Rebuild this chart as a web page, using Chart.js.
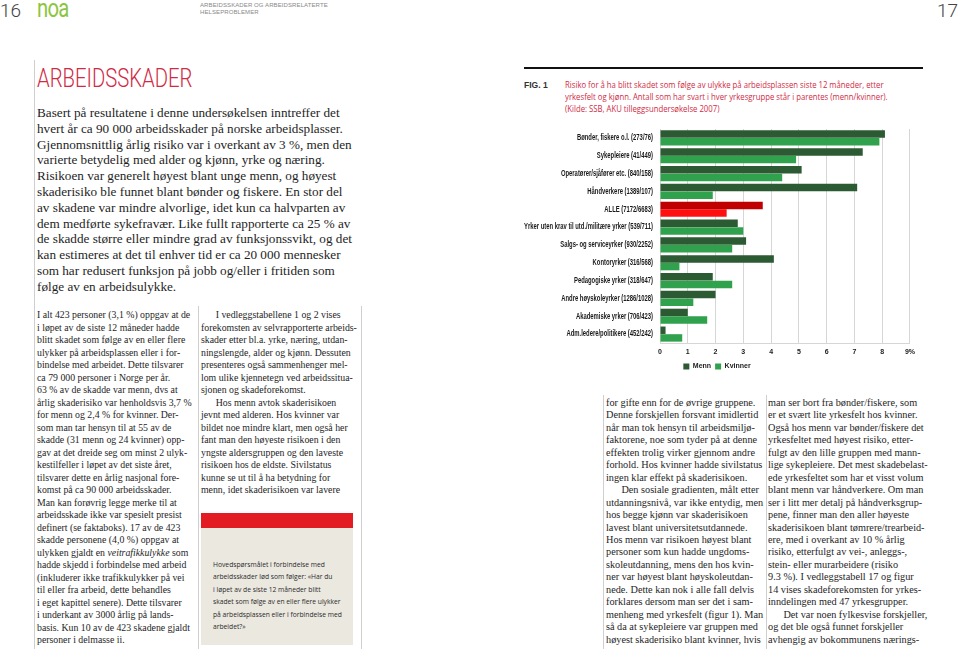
<!DOCTYPE html>
<html>
<head>
<meta charset="utf-8">
<script src="https://cdn.jsdelivr.net/npm/chart.js@4.4.0/dist/chart.umd.min.js"></script>
<style>
  html,body{margin:0;padding:0;background:#fff;}
  body{width:960px;height:649px;position:relative;overflow:hidden;font-family:"Liberation Serif","DejaVu Serif",serif;color:#222;}
  .abs{position:absolute;}
  .pg{font-family:Roboto,"Liberation Sans",sans-serif;font-weight:300;font-size:19px;line-height:22px;color:#444;top:0;}
  .hdr{left:200px;top:2px;font-family:"Liberation Sans",sans-serif;font-size:6px;line-height:6.5px;color:#888;letter-spacing:0.1px;}
  .logo{left:37px;top:1px;font-family:Roboto,sans-serif;font-weight:400;font-size:26px;line-height:14px;color:#8cc63f;letter-spacing:-1px;transform:scaleX(0.78);transform-origin:left top;}
  .vline{width:1px;background:#cfcfcf;}
  .title{left:37px;top:63px;font-family:Roboto,"Liberation Sans",sans-serif;font-weight:300;font-size:26px;color:#cf2b45;transform:scaleX(0.78);transform-origin:left top;white-space:nowrap;}
  .lead{left:37px;top:105px;font-size:13.2px;line-height:15.8px;white-space:pre;color:#1e1e1e;}
  .col{font-size:9.8px;line-height:12.52px;white-space:pre;color:#1e1e1e;}
  .colr{font-size:10.25px;line-height:12.45px;white-space:pre;color:#1e1e1e;}
  .box{left:201px;top:513px;width:152px;height:132px;background:#ebe8e0;}
  .boxbar{left:201px;top:513px;width:152px;height:15px;background:#e31b23;}
  .boxtxt{left:213px;top:558px;font-family:"Open Sans","Liberation Sans",sans-serif;font-size:8px;line-height:12.4px;white-space:pre;color:#2a2a2a;transform:scaleX(0.84);transform-origin:left top;}
  .rule{left:524px;top:67px;width:399px;height:2px;background:#111;}
  .fig{left:524px;top:79px;font-family:"Liberation Sans",sans-serif;font-weight:bold;font-size:9.5px;color:#333;transform:scaleX(0.9);transform-origin:left top;}
  .cap{left:565px;top:79px;font-family:"Open Sans","Liberation Sans",sans-serif;font-size:9.5px;line-height:12px;white-space:pre;color:#cf2b45;transform:scaleX(0.815);transform-origin:left top;}
  #wrap{position:absolute;left:520px;top:118px;width:400px;height:262px;}
</style>
</head>
<body>
<div class="abs pg" style="left:0;">16</div>
<div class="abs pg" style="right:2px;">17</div>
<div class="abs logo">noa</div>
<div class="abs hdr">ARBEIDSSKADER OG ARBEIDSRELATERTE<br>HELSEPROBLEMER</div>

<div class="abs vline" style="left:34px;top:60px;height:589px;"></div>
<div class="abs vline" style="left:198px;top:306px;height:343px;"></div>
<div class="abs vline" style="left:361px;top:306px;height:343px;"></div>
<div class="abs vline" style="left:603px;top:395px;height:254px;"></div>
<div class="abs vline" style="left:766px;top:395px;height:254px;"></div>

<div class="abs title">ARBEIDSSKADER</div>
<div class="abs lead">Basert på resultatene i denne undersøkelsen inntreffer det
hvert år ca 90 000 arbeidsskader på norske arbeidsplasser.
Gjennomsnittlig årlig risiko var i overkant av 3 %, men den
varierte betydelig med alder og kjønn, yrke og næring.
Risikoen var generelt høyest blant unge menn, og høyest
skaderisiko ble funnet blant bønder og fiskere. En stor del
av skadene var mindre alvorlige, idet kun ca halvparten av
dem medførte sykefravær. Like fullt rapporterte ca 25 % av
de skadde større eller mindre grad av funksjonssvikt, og det
kan estimeres at det til enhver tid er ca 20 000 mennesker
som har redusert funksjon på jobb og/eller i fritiden som
følge av en arbeidsulykke.</div>

<div class="abs col" style="left:37px;top:309px;">I alt 423 personer (3,1 %) oppgav at de
i løpet av de siste 12 måneder hadde
blitt skadet som følge av en eller flere
ulykker på arbeidsplassen eller i for-
bindelse med arbeidet. Dette tilsvarer
ca 79 000 personer i Norge per år.
63 % av de skadde var menn, dvs at
årlig skaderisiko var henholdsvis 3,7 %
for menn og 2,4 % for kvinner. Der-
som man tar hensyn til at 55 av de
skadde (31 menn og 24 kvinner) opp-
gav at det dreide seg om minst 2 ulyk-
kestilfeller i løpet av det siste året,
tilsvarer dette en årlig nasjonal fore-
komst på ca 90 000 arbeidsskader.
Man kan forøvrig legge merke til at
arbeidsskade ikke var spesielt presist
definert (se faktaboks). 17 av de 423
skadde personene (4,0 %) oppgav at
ulykken gjaldt en <i>veitrafikkulykke</i> som
hadde skjedd i forbindelse med arbeid
(inkluderer ikke trafikkulykker på vei
til eller fra arbeid, dette behandles
i eget kapittel senere). Dette tilsvarer
i underkant av 3000 årlig på lands-
basis. Kun 10 av de 423 skadene gjaldt
personer i delmasse ii.</div>

<div class="abs col" style="left:201px;top:309px;">      I vedleggstabellene 1 og 2 vises
forekomsten av selvrapporterte arbeids-
skader etter bl.a. yrke, næring, utdan-
ningslengde, alder og kjønn. Dessuten
presenteres også sammenhenger mel-
lom ulike kjennetegn ved arbeidssitua-
sjonen og skadeforekomst.
      Hos menn avtok skaderisikoen
jevnt med alderen. Hos kvinner var
bildet noe mindre klart, men også her
fant man den høyeste risikoen i den
yngste aldersgruppen og den laveste
risikoen hos de eldste. Sivilstatus
kunne se ut til å ha betydning for
menn, idet skaderisikoen var lavere</div>

<div class="abs box"></div>
<div class="abs boxbar"></div>
<div class="abs boxtxt">Hovedspørsmålet i forbindelse med
arbeidsskader lød som følger: «Har du
i løpet av de siste 12 måneder blitt
skadet som følge av en eller flere ulykker
på arbeidsplassen eller i forbindelse med
arbeidet?»</div>

<div class="abs rule"></div>
<div class="abs fig">FIG. 1</div>
<div class="abs cap">Risiko for å ha blitt skadet som følge av ulykke på arbeidsplassen siste 12 måneder, etter
yrkesfelt og kjønn. Antall som har svart i hver yrkesgruppe står i parentes (menn/kvinner).
(Kilde: SSB, AKU tilleggsundersøkelse 2007)</div>

<div id="wrap"><canvas id="c"></canvas></div>

<div class="abs colr" style="left:606px;top:397px;">for gifte enn for de øvrige gruppene.
Denne forskjellen forsvant imidlertid
når man tok hensyn til arbeidsmiljø-
faktorene, noe som tyder på at denne
effekten trolig virker gjennom andre
forhold. Hos kvinner hadde sivilstatus
ingen klar effekt på skaderisikoen.
      Den sosiale gradienten, målt etter
utdanningsnivå, var ikke entydig, men
hos begge kjønn var skaderisikoen
lavest blant universitetsutdannede.
Hos menn var risikoen høyest blant
personer som kun hadde ungdoms-
skoleutdanning, mens den hos kvin-
ner var høyest blant høyskoleutdan-
nede. Dette kan nok i alle fall delvis
forklares dersom man ser det i sam-
menheng med yrkesfelt (figur 1). Man
så da at sykepleiere var gruppen med
høyest skaderisiko blant kvinner, hvis</div>

<div class="abs colr" style="left:768px;top:397px;">man ser bort fra bønder/fiskere, som
er et svært lite yrkesfelt hos kvinner.
Også hos menn var bønder/fiskere det
yrkesfeltet med høyest risiko, etter-
fulgt av den lille gruppen med mann-
lige sykepleiere. Det mest skadebelast-
ede yrkesfeltet som har et visst volum
blant menn var håndverkere. Om man
ser i litt mer detalj på håndverksgrup-
pene, finner man den aller høyeste
skaderisikoen blant tømrere/trearbeid-
ere, med i overkant av 10 % årlig
risiko, etterfulgt av vei-, anleggs-,
stein- eller murarbeidere (risiko
9.3 %). I vedleggstabell 17 og figur
14 vises skadeforekomsten for yrkes-
inndelingen med 47 yrkesgrupper.
      Det var noen fylkesvise forskjeller,
og det ble også funnet forskjeller
avhengig av bokommunens nærings-</div>

<script>
const categories = [
  "Bønder, fiskere o.l. (273/76)",
  "Sykepleiere (41/449)",
  "Operatører/sjåfører etc. (840/158)",
  "Håndverkere (1389/107)",
  "ALLE (7172/6683)",
  "Yrker uten krav til utd./militære yrker (539/711)",
  "Salgs- og serviceyrker (930/2252)",
  "Kontoryrker (316/568)",
  "Pedagogiske yrker (318/647)",
  "Andre høyskoleyrker (1286/1028)",
  "Akademiske yrker (706/423)",
  "Adm.ledere/politikere (452/242)"
];
const menn    = [8.1, 7.3, 5.1, 7.1, 3.7, 2.8, 3.1, 4.1, 1.9, 2.0, 1.0, 0.2];
const kvinner = [7.9, 4.9, 4.4, 1.9, 2.4, 3.0, 2.6, 0.7, 2.6, 1.2, 1.7, 0.8];
const xTickLabels = ["0","1","2","3","4","5","6","7","8","9%"];

const MENN = "#2c5a33", KVINNER = "#30a14c", ALLE_M = "#c00000", ALLE_K = "#ff1010";
const mennColors = categories.map(c => c.startsWith("ALLE") ? ALLE_M : MENN);
const kvinnerColors = categories.map(c => c.startsWith("ALLE") ? ALLE_K : KVINNER);

const FONT_FAMILY = "'Liberation Sans',Arial,sans-serif";
const lblFont = {family:FONT_FAMILY, size:7, weight:"bold"};

// Draws the y-axis category labels in a condensed (horizontally squeezed) bold face,
// positioned from the chart's own y scale.
const narrowYLabels = {
  id: "narrowYLabels",
  afterDraw(chart) {
    const ys = chart.scales.y, ctx = chart.ctx;
    ctx.save();
    ctx.font = "bold 8.5px " + FONT_FAMILY;
    ctx.fillStyle = "#1a1a1a";
    ctx.textAlign = "right";
    ctx.textBaseline = "middle";
    const longest = Math.max(...categories.map(c => ctx.measureText(c).width));
    const sx = 129 / longest;
    const xRight = chart.chartArea.left - 7;
    ys.ticks.forEach((t, i) => {
      const y = ys.getPixelForTick(i);
      ctx.save();
      ctx.translate(xRight, y);
      ctx.scale(sx, 1);
      ctx.fillText(categories[i], 0, 0);
      ctx.restore();
    });
    ctx.restore();
  }
};

new Chart(document.getElementById("c"), {
  type: "bar",
  data: {
    labels: categories,
    datasets: [
      {label:"Menn", data:menn, backgroundColor:mennColors, categoryPercentage:0.86, barPercentage:0.97},
      {label:"Kvinner", data:kvinner, backgroundColor:kvinnerColors, categoryPercentage:0.86, barPercentage:0.97}
    ]
  },
  options: {
    indexAxis: "y",
    responsive: true,
    maintainAspectRatio: false,
    animation: false,
    layout: {padding:{top:11, right:6, left:0, bottom:0}},
    scales: {
      x: {
        min:0, max:9,
        grid:{color:"#d6d6d6", drawTicks:false, lineWidth:1},
        border:{color:"#d6d6d6"},
        ticks:{stepSize:1, padding:5, color:"#222", font:lblFont,
               callback:(v,i)=>xTickLabels[i]},
        afterFit:(s)=>{ s.height = 16; }
      },
      y: {
        grid:{display:false, drawTicks:false},
        border:{display:false},
        ticks:{display:false},
        afterFit:(s)=>{ s.width = 140; }
      }
    },
    plugins: {
      legend: {
        position:"bottom",
        labels:{
          boxWidth:6, boxHeight:6, padding:4, color:"#222", font:lblFont,
          generateLabels:(chart)=>chart.data.datasets.map((d,i)=>({
            text:d.label, fillStyle:i===0?MENN:KVINNER, strokeStyle:i===0?MENN:KVINNER,
            lineWidth:0, datasetIndex:i, fontColor:"#222"
          }))
        }
      },
      tooltip:{enabled:false}
    }
  },
  plugins:[narrowYLabels]
});
</script>
</body>
</html>
